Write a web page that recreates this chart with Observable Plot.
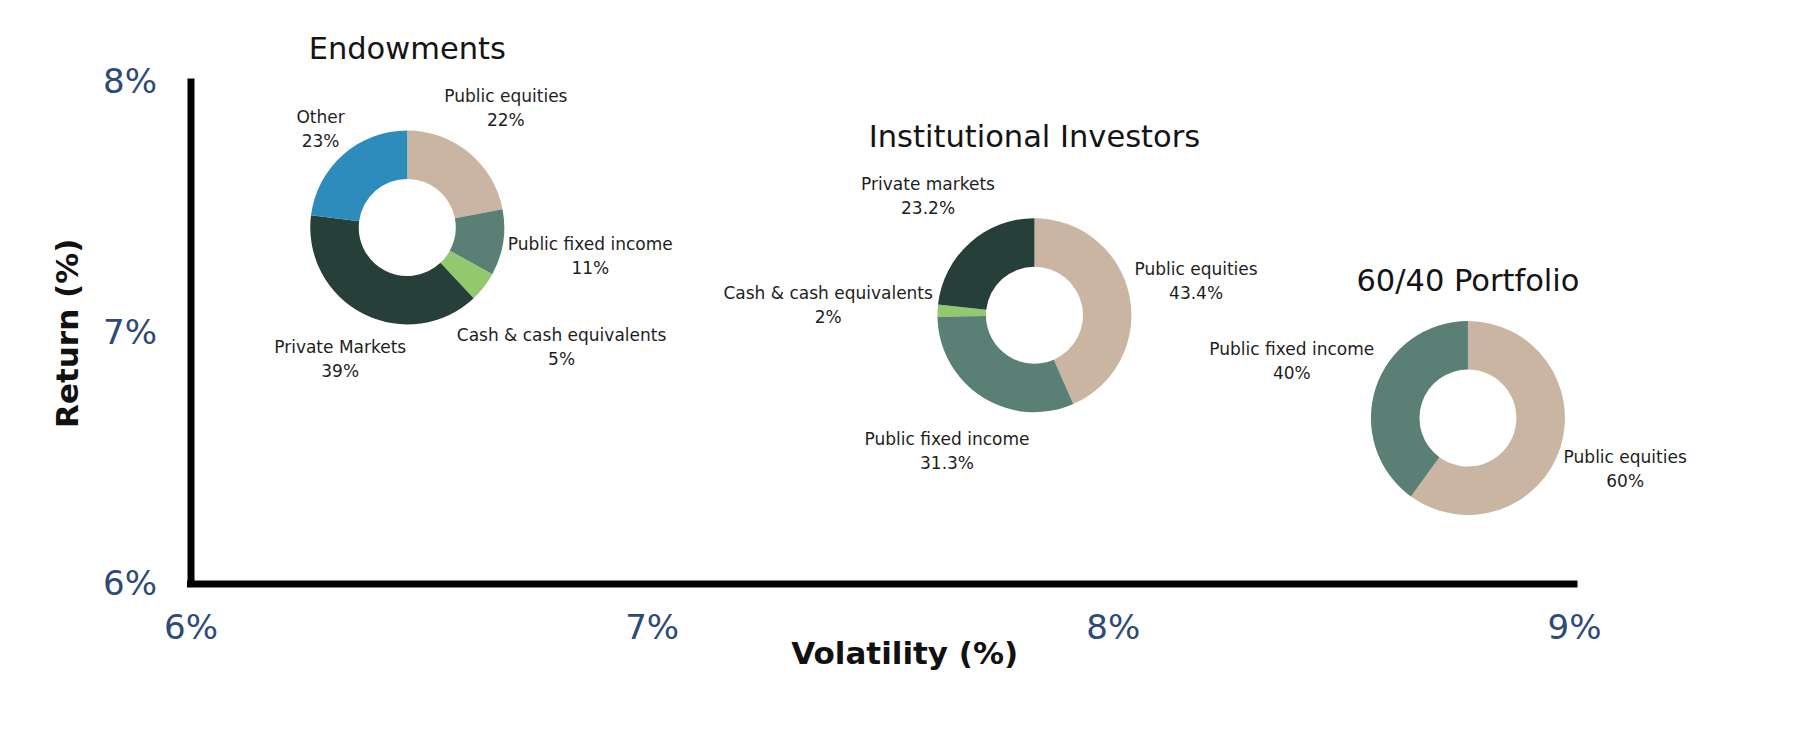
<!DOCTYPE html>
<html>
<head>
<meta charset="utf-8">
<script src="https://cdn.jsdelivr.net/npm/d3@7"></script>
<script src="https://cdn.jsdelivr.net/npm/@observablehq/plot@0.6"></script>
<style>
  html, body { margin: 0; padding: 0; background: #fff; }
  #chart svg { display: block; }
</style>
</head>
<body>
<div id="chart"></div>
<script>
// ---- data ----
const portfolios = ["Endowments", "Institutional Investors", "60/40 Portfolio"];
const volatility = [6.47, 7.83, 8.77];   // x, %
const returns = [7.42, 7.07, 6.66];      // y, %

const endowmentAssets = ["Public equities", "Public fixed income", "Cash & cash equivalents", "Private Markets", "Other"];
const endowmentShares = [22, 11, 5, 39, 23];
const institutionalAssets = ["Public equities", "Public fixed income", "Cash & cash equivalents", "Private markets"];
const institutionalShares = [43.4, 31.3, 2, 23.2];
const sixtyFortyAssets = ["Public equities", "Public fixed income"];
const sixtyFortyShares = [60, 40];

const assetClasses = ["public equities", "public fixed income", "cash & cash equivalents", "private markets", "other"];
const xTicks = [6, 7, 8, 9];
const yTicks = [6, 7, 8];

// ---- table built from the arrays ----
const assetLists = [endowmentAssets, institutionalAssets, sixtyFortyAssets];
const shareLists = [endowmentShares, institutionalShares, sixtyFortyShares];
const slices = [];
portfolios.forEach((p, k) => {
  assetLists[k].forEach((a, j) => {
    slices.push({portfolio: p, vol: volatility[k], ret: returns[k], asset: a, cls: a.toLowerCase(), share: shareLists[k][j]});
  });
});

// ---- styling ----
const palette = ["#c9b5a1", "#5a7f75", "#93c96e", "#263f39", "#2e8cbd"];
const R_OUT = 97, R_IN = 48.5, GAP = 4;
const LABEL_SIZE = 17, LINE_H = 24, TITLE_SIZE = 30.5, TITLE_GAP = 41;
const FONT = "DejaVu Sans";

function donuts(index, scales, values) {
  const g = d3.create("svg:g");
  const ctx = document.createElement("canvas").getContext("2d");
  ctx.font = `${LABEL_SIZE}px "${FONT}"`;
  const groups = d3.group(index, i => slices[i].portfolio);
  for (const [name, idx] of groups) {
    const cx = values.x[idx[0]], cy = values.y[idx[0]];
    const arcs = d3.pie().sort(null).value(i => slices[i].share)(idx);
    const arc = d3.arc().innerRadius(R_IN).outerRadius(R_OUT);
    const dg = g.append("g").attr("transform", `translate(${cx},${cy})`);
    dg.selectAll("path").data(arcs).join("path")
      .attr("d", arc)
      .attr("fill", a => values.fill[a.data]);
    let minTop = -R_OUT;
    for (const a of arcs) {
      const s = slices[a.data];
      const lines = [s.asset, `${s.share}%`];
      const w = Math.max(...lines.map(t => ctx.measureText(t).width));
      const h = LINE_H + LABEL_SIZE * 0.8;
      const mid = (a.startAngle + a.endAngle) / 2;
      const ux = Math.sin(mid), uy = -Math.cos(mid);
      const L = R_OUT + GAP + Math.abs(ux) * w / 2 + Math.abs(uy) * h / 2;
      const lx = ux * L, ly = uy * L;
      minTop = Math.min(minTop, ly - h / 2);
      const t = dg.append("text")
        .attr("text-anchor", "middle")
        .attr("font-family", FONT)
        .attr("font-size", LABEL_SIZE)
        .attr("font-weight", 400)
        .attr("fill", "#1e1e1e");
      lines.forEach((str, k) => {
        t.append("tspan")
          .attr("x", lx)
          .attr("y", ly + (k - 0.5) * LINE_H)
          .attr("dy", "0.35em")
          .text(str);
      });
    }
    dg.append("text")
      .attr("x", 0)
      .attr("y", minTop - TITLE_GAP)
      .attr("dy", "0.35em")
      .attr("text-anchor", "middle")
      .attr("font-family", FONT)
      .attr("font-size", TITLE_SIZE)
      .attr("font-weight", 400)
      .attr("fill", "#141414")
      .text(name);
  }
  return g.node();
}

const chart = Plot.plot({
  width: 1800,
  height: 743,
  marginLeft: 190.5,
  marginRight: 226,
  marginTop: 82,
  marginBottom: 159.5,
  style: {fontFamily: FONT, fontSize: "34px", fontWeight: 400, color: "#2d4a78", background: "#fff", overflow: "visible"},
  x: {domain: [6, 9], label: null},
  y: {domain: [6, 8], label: null},
  color: {type: "ordinal", domain: assetClasses, range: palette},
  marks: [
    Plot.axisX(xTicks, {tickSize: 0, tickPadding: 31, tickFormat: d => `${d}%`, label: null}),
    Plot.axisY(yTicks, {tickSize: 0, tickPadding: 34, tickFormat: d => `${d}%`, label: null}),
    Plot.ruleX([6], {y1: 6, y2: 8, stroke: "#000", strokeWidth: 7, strokeLinecap: "square"}),
    Plot.ruleY([6], {x1: 6, x2: 9, stroke: "#000", strokeWidth: 7, strokeLinecap: "square"}),
    Plot.text(["Volatility (%)"], {text: d => d, frameAnchor: "bottom", lineAnchor: "middle", textAnchor: "middle", dx: 22, dy: 70, fontSize: 31, fontWeight: 700, fill: "#111"}),
    Plot.text(["Return (%)"], {text: d => d, frameAnchor: "left", lineAnchor: "middle", textAnchor: "middle", rotate: -90, dx: -122.5, fontSize: 31, fontWeight: 700, fill: "#111"}),
    Plot.dot(slices, {x: "vol", y: "ret", fill: "cls", render: donuts})
  ]
});
document.getElementById("chart").appendChild(chart);
</script>
</body>
</html>
